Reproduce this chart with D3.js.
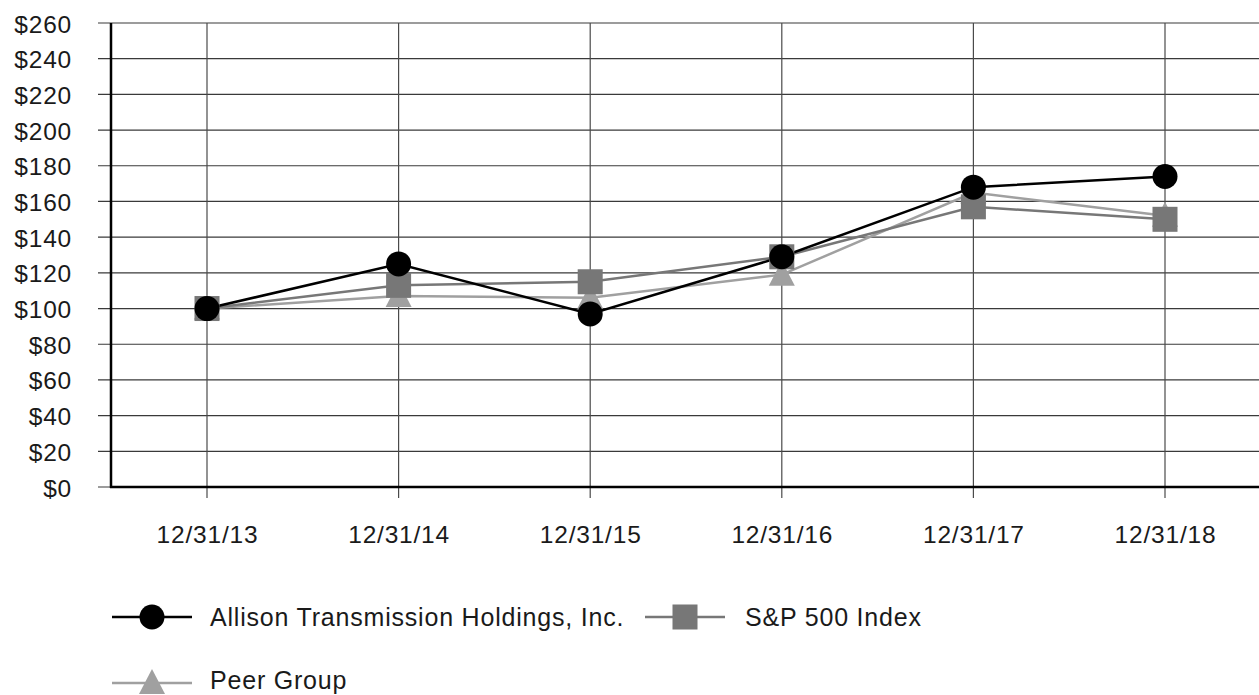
<!DOCTYPE html>
<html>
<head>
<meta charset="utf-8">
<script src="https://cdn.jsdelivr.net/npm/d3@7"></script>
<style>
  body { margin: 0; background: #fff; }
  text { font-family: "Liberation Sans", Arial, sans-serif; letter-spacing: 0.8px; }
</style>
</head>
<body>
<div id="chart"></div>
<script>
// data
var dates = ["12/31/13", "12/31/14", "12/31/15", "12/31/16", "12/31/17", "12/31/18"];
var allison = [100, 125, 97, 129, 168, 174];
var sp500 = [100, 113, 115, 129, 157, 150];
var peer = [100, 107, 106, 119, 165, 152];
var yTicks = d3.range(0, 261, 20);

var W = 1259, H = 695;
var FS = 24.5;
var svg = d3.select("#chart").append("svg")
  .attr("width", W).attr("height", H);

var y = d3.scaleLinear().domain([0, 260]).range([487, 23]);
var x = d3.scalePoint().domain(dates).range([207, 1165]);
var axisX = 111;

//////////////////// grid ////////////////////
svg.append("g").selectAll("line.h")
  .data(yTicks).enter().append("line")
  .attr("x1", 98).attr("x2", W)
  .attr("y1", function(d){ return y(d); }).attr("y2", function(d){ return y(d); })
  .attr("stroke", "#3a3a3a").attr("stroke-width", 1.2);

svg.append("g").selectAll("line.v")
  .data(dates).enter().append("line")
  .attr("x1", function(d){ return x(d); }).attr("x2", function(d){ return x(d); })
  .attr("y1", y(260)).attr("y2", 498)
  .attr("stroke", "#4a4a4a").attr("stroke-width", 1.2);

// axis lines
svg.append("line").attr("x1", axisX).attr("x2", axisX)
  .attr("y1", y(260)).attr("y2", y(0) + 1)
  .attr("stroke", "#000").attr("stroke-width", 2.5);
svg.append("line").attr("x1", axisX - 1).attr("x2", W)
  .attr("y1", y(0)).attr("y2", y(0))
  .attr("stroke", "#000").attr("stroke-width", 2.5);

// tick labels
svg.append("g").selectAll("text")
  .data(yTicks).enter().append("text")
  .attr("x", 72).attr("y", function(d){ return y(d) + 9.5; })
  .attr("text-anchor", "end").attr("font-size", FS).attr("fill", "#1a1a1a")
  .text(function(d){ return "$" + d; });

svg.append("g").selectAll("text")
  .data(dates).enter().append("text")
  .attr("x", function(d){ return x(d) + 0.5; }).attr("y", 543)
  .attr("text-anchor", "middle").attr("font-size", FS).attr("fill", "#1a1a1a")
  .text(function(d){ return d; });

//////////////////// series ////////////////////
var series = [
  {name: "Peer Group", values: peer, color: "#a0a0a0", shape: "tri"},
  {name: "S&P 500 Index", values: sp500, color: "#777777", shape: "sq"},
  {name: "Allison Transmission Holdings, Inc.", values: allison, color: "#000000", shape: "circ"}
];

var line = d3.line()
  .x(function(d, i){ return x(dates[i]); })
  .y(function(d){ return y(d); });

function marker(g, shape, color, cx, cy) {
  if (shape === "circ") {
    g.append("circle").attr("cx", cx).attr("cy", cy).attr("r", 12.5).attr("fill", color);
  } else if (shape === "sq") {
    g.append("rect").attr("x", cx - 12.5).attr("y", cy - 12.5)
      .attr("width", 25).attr("height", 25).attr("fill", color);
  } else {
    g.append("path")
      .attr("d", "M" + cx + "," + (cy - 14) + "L" + (cx + 13) + "," + (cy + 11) + "L" + (cx - 13) + "," + (cy + 11) + "Z")
      .attr("fill", color);
  }
}

// lines first, then markers (allison on top)
series.forEach(function(s) {
  svg.append("path").datum(s.values)
    .attr("d", line).attr("fill", "none")
    .attr("stroke", s.color).attr("stroke-width", 2.5);
});
series.forEach(function(s) {
  var g = svg.append("g");
  s.values.forEach(function(v, i) {
    marker(g, s.shape, s.color, x(dates[i]), y(v));
  });
});

//////////////////// legend ////////////////////
var legendItems = [
  {s: series[2], lx: 112, tx: 210, ly: 617, by: 626},
  {s: series[1], lx: 645, tx: 745, ly: 617, by: 626},
  {s: series[0], lx: 112, tx: 210, ly: 683, by: 689}
];
legendItems.forEach(function(d) {
  var g = svg.append("g");
  g.append("line").attr("x1", d.lx).attr("x2", d.lx + 80)
    .attr("y1", d.ly).attr("y2", d.ly)
    .attr("stroke", d.s.color).attr("stroke-width", 2.5);
  marker(g, d.s.shape, d.s.color, d.lx + 40, d.ly);
  g.append("text").attr("x", d.tx).attr("y", d.by)
    .attr("font-size", 25).attr("fill", "#1a1a1a")
    .text(d.s.name);
});
</script>
</body>
</html>
